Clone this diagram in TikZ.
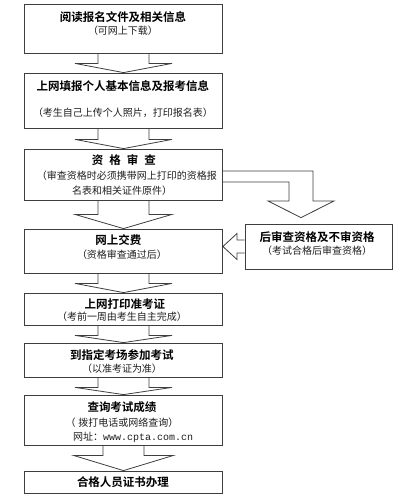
\documentclass[tikz,border=0pt]{standalone}
\usepackage{fontspec}
\setmainfont{Noto Sans CJK SC}[BoldFont={Noto Sans CJK SC Bold}]
\newfontfamily\urlfont{Liberation Mono}
\usetikzlibrary{calc}
\definecolor{lc}{RGB}{62,62,62}
\definecolor{tc}{RGB}{30,30,30}
\newcommand\blockdown[5]{%
  \draw[blk] ($(#1.south)+(-#4,0)$) -- ($(#1.south)+(-#4,#3)$) -- ($(#1.south)+(-#5,#3)$)
    -- (#2.north) -- ($(#1.south)+(#5,#3)$) -- ($(#1.south)+(#4,#3)$) -- ($(#1.south)+(#4,0)$);}
\begin{document}
\begin{tikzpicture}[x=1pt,y=-1pt,
  box/.style={draw=lc, line width=0.8pt, inner sep=0pt, minimum width=198pt},
  blk/.style={draw=lc, line width=0.8pt, line join=miter},
  ttl/.style={font=\fontsize{11.5}{12}\selectfont\bfseries, inner sep=0pt, text=black},
  sub/.style={font=\fontsize{10}{11}\selectfont, inner sep=0pt, text=tc}]
\useasboundingbox (0,0) rectangle (409,499);

% boxes
\node[box, minimum height=49pt] (b1) at (123.5,28.5) {};
\node[box, minimum height=55pt] (b2) at (123.5,100.5) {};
\node[box, minimum height=51pt] (b3) at (123.5,174.5) {};
\node[box, minimum height=44pt] (b5) at (123.5,251) {};
\node[box, minimum height=32pt] (b6) at (123.5,309) {};
\node[box, minimum height=34pt] (b7) at (123.5,360) {};
\node[box, minimum height=50pt] (b8) at (123.5,420) {};
\node[box, minimum height=22pt] (b9) at (123.5,482) {};
\node[box, minimum width=147pt, minimum height=45pt] (b4) at (318.5,246.5) {};

% down block arrows
\blockdown{b1}{b2}{10}{25.5}{48.5}
\blockdown{b2}{b3}{11}{25.5}{48.5}
\blockdown{b3}{b5}{14}{25.5}{48.5}
\blockdown{b5}{b6}{10}{25.5}{48.5}
\blockdown{b6}{b7}{10}{25.5}{48.5}
\blockdown{b7}{b8}{10}{25.5}{48.5}
\blockdown{b8}{b9}{10}{20.5}{50}

% elbow block arrow from b3 to b4
\coordinate (etip) at ($(b4.north)+(-17.5,-6)$);
\draw[blk] ($(b3.east)+(0,-3.5)$) -- (313,171) -- (313,201) -- (334,201) -- (etip)
  -- (268,201) -- (289,201) -- (289,182) -- ($(b3.east)+(0,7.5)$);

% left block arrow from b4 to b5
\coordinate (ltip) at (b5.east |- b4.west);
\draw[blk] ($(b4.west)+(0,-6.5)$) -- (237,240) -- (237,233.5) -- (ltip)
  -- (237,259.5) -- (237,253) -- ($(b4.west)+(0,6.5)$);

% texts
\node[ttl] (t1) at (123,17) {阅读报名文件及相关信息};
\node[sub] (s1) at (123,31) {（可网上下载）};
\node[ttl] (t2) at (123,86) {上网填报个人基本信息及报考信息};
\node[sub] (s2) at (123,112.5) {（考生自己上传个人照片，打印报名表）};
\node[ttl] (t3) at (124,160) {资\hspace{6pt}格\hspace{6pt}审\hspace{6pt}查};
\node[sub] (s3a) at (127,176) {（审查资格时必须携带网上打印的资格报};
\node[sub, anchor=west] (s3b) at (72,191) {名表和相关证件原件）};
\node[ttl] (t5) at (118.5,240) {网上交费};
\node[sub] (s5) at (122,255) {（资格审查通过后）};
\node[ttl] (t4) at (317,237) {后审查资格及不审资格};
\node[sub] (s4) at (317,251) {（考试合格后审查资格）};
\node[ttl] (t6) at (125,304) {上网打印准考证};
\node[sub] (s6) at (122,317) {（考前一周由考生自主完成）};
\node[ttl] (t7) at (122,355) {到指定考场参加考试};
\node[sub] (s7) at (122,369) {（以准考证为准）};
\node[ttl] (t8) at (122,407) {查询考试成绩};
\node[sub] (s8) at (122,423) {（\hspace{3pt}拨打电话或网络查询）};
\node[sub, anchor=west] (u8) at (73,437) {网址：{\urlfont\fontsize{10}{10}\selectfont www.cpta.com.cn}};
\node[ttl] (t9) at (123,482) {合格人员证书办理};
\end{tikzpicture}
\end{document}
